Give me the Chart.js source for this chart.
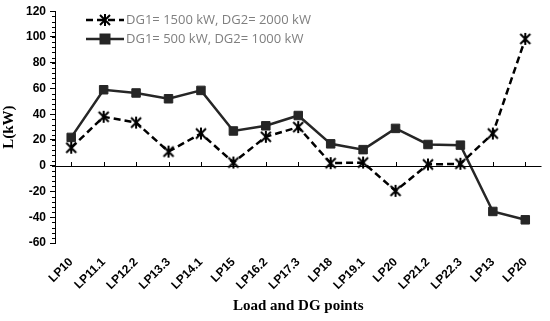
<!DOCTYPE html>
<html>
<head>
<meta charset="utf-8">
<script src="https://cdn.jsdelivr.net/npm/chart.js@4.4.0/dist/chart.umd.min.js"></script>
<style>
  html, body { margin: 0; padding: 0; background: #fff; }
  #wrap { width: 550px; height: 321px; position: relative; }
</style>
</head>
<body>
<div id="wrap"><canvas id="grafico"></canvas></div>
<script>
// Dados do gráfico
const categorias = ['LP10', 'LP11.1', 'LP12.2', 'LP13.3', 'LP14.1', 'LP15', 'LP16.2', 'LP17.3',
    'LP18', 'LP19.1', 'LP20', 'LP21.2', 'LP22.3', 'LP13', 'LP20'];
const serieAlta = [14, 38, 33.5, 11, 25, 2.5, 22.5, 30, 2, 2.5, -19.5, 1, 1.5, 25, 98.5];
const serieBaixa = [22, 59, 56.5, 52, 58.5, 27, 31, 39, 17, 12.5, 29, 16.5, 16, -35.5, -42];
const nomesSeries = ['DG1= 1500 kW, DG2= 2000 kW', 'DG1= 500 kW, DG2= 1000 kW'];
const yMin = -60, yMax = 120, yPasso = 20, yMenor = 4;

// Marcador asterisco (X + traço vertical), como no Excel
function criarAsterisco() {
    const c = document.createElement('canvas');
    c.width = 14; c.height = 14;
    const g = c.getContext('2d');
    g.strokeStyle = '#000';
    g.lineWidth = 2;
    g.beginPath();
    g.moveTo(2, 2); g.lineTo(12, 12);
    g.moveTo(12, 2); g.lineTo(2, 12);
    g.moveTo(7, 1); g.lineTo(7, 13);
    g.stroke();
    return c;
}
const asterisco = criarAsterisco();

// Eixo zero com marcas e marcas menores no eixo y
const eixoPlugin = {
    id: 'eixoPlugin',
    afterDatasetsDraw(chart) {
        const { ctx, chartArea, scales } = chart;
        const x = scales.x, y = scales.y;
        const y0 = Math.round(y.getPixelForValue(0));
        ctx.save();
        ctx.strokeStyle = '#000';
        ctx.lineWidth = 1;
        ctx.beginPath();
        ctx.moveTo(chartArea.left, y0 + 0.5);
        ctx.lineTo(chartArea.right, y0 + 0.5);
        for (let i = 0; i < categorias.length; i++) {
            const px = Math.round(x.getPixelForValue(i)) + 0.5;
            ctx.moveTo(px, y0);
            ctx.lineTo(px, y0 - 4);
        }
        for (let v = yMin; v <= yMax; v += yMenor) {
            const py = Math.round(y.getPixelForValue(v)) + 0.5;
            ctx.moveTo(chartArea.left, py);
            ctx.lineTo(chartArea.left - 3, py);
        }
        ctx.stroke();
        ctx.restore();
    }
};

// Legenda dentro da área do gráfico
const legendaPlugin = {
    id: 'legendaPlugin',
    afterDraw(chart) {
        const { ctx } = chart;
        ctx.save();
        chart.data.datasets.forEach((ds, i) => {
            const yy = 20 + i * 19;
            const x0 = 86, x1 = 124;
            ctx.strokeStyle = ds.borderColor;
            ctx.lineWidth = ds.borderWidth;
            ctx.setLineDash(ds.borderDash || []);
            ctx.beginPath();
            ctx.moveTo(x0, yy);
            ctx.lineTo(x1, yy);
            ctx.stroke();
            ctx.setLineDash([]);
            const cx = (x0 + x1) / 2;
            if (ds.pointStyle === asterisco) {
                ctx.drawImage(asterisco, cx - 7, yy - 7);
            } else {
                Chart.helpers.drawPoint(ctx, {
                    pointStyle: ds.pointStyle,
                    radius: ds.pointRadius,
                    borderWidth: ds.pointBorderWidth,
                    rotation: 0
                }, cx, yy);
                ctx.fillStyle = ds.pointBackgroundColor;
                ctx.strokeStyle = ds.pointBorderColor;
                ctx.lineWidth = ds.pointBorderWidth;
                ctx.fill();
                ctx.stroke();
            }
            ctx.fillStyle = '#7f7f7f';
            ctx.font = '13px "Open Sans", sans-serif';
            ctx.textBaseline = 'middle';
            ctx.fillText(ds.label, x1 + 2, yy);
        });
        ctx.restore();
    }
};

new Chart(document.getElementById('grafico'), {
    type: 'line',
    data: {
        labels: categorias,
        datasets: [{
            label: nomesSeries[0],
            data: serieAlta,
            borderColor: '#000',
            borderWidth: 2.5,
            borderDash: [7, 4],
            pointStyle: asterisco,
            pointRadius: 6,
            tension: 0
        }, {
            label: nomesSeries[1],
            data: serieBaixa,
            borderColor: '#262626',
            borderWidth: 2.5,
            pointStyle: 'rect',
            pointRadius: 6,
            pointBorderWidth: 1,
            pointBorderColor: '#262626',
            pointBackgroundColor: '#262626',
            tension: 0
        }]
    },
    options: {
        responsive: true,
        maintainAspectRatio: false,
        animation: false,
        layout: { padding: { top: 10, right: 2, left: 0, bottom: 0 } },
        plugins: { legend: { display: false }, tooltip: { enabled: false } },
        scales: {
            x: {
                offset: true,
                border: { display: false },
                grid: { display: false },
                ticks: {
                    autoSkip: false,
                    minRotation: 45,
                    maxRotation: 45,
                    padding: 4,
                    color: '#000',
                    font: { family: 'Liberation Sans', weight: 'bold', size: 12 }
                },
                title: {
                    display: true,
                    text: 'Load and DG points',
                    color: '#000',
                    padding: { top: 0, bottom: 6 },
                    font: { family: 'Liberation Serif', weight: 'bold', size: 15 }
                },
                afterFit(scale) { scale.height = 78; }
            },
            y: {
                min: yMin,
                max: yMax,
                border: { display: true, color: '#000', width: 1 },
                grid: { drawOnChartArea: false, tickLength: 5, color: '#000' },
                ticks: {
                    stepSize: yPasso,
                    padding: 4,
                    color: '#000',
                    font: { family: 'Liberation Sans', weight: 'bold', size: 12 }
                },
                title: {
                    display: true,
                    text: 'L(kW)',
                    color: '#000',
                    padding: { top: 0, bottom: 2 },
                    font: { family: 'Liberation Serif', weight: 'bold', size: 15 }
                },
                afterFit(scale) { scale.width = 55; }
            }
        }
    },
    plugins: [eixoPlugin, legendaPlugin]
});
</script>
</body>
</html>
